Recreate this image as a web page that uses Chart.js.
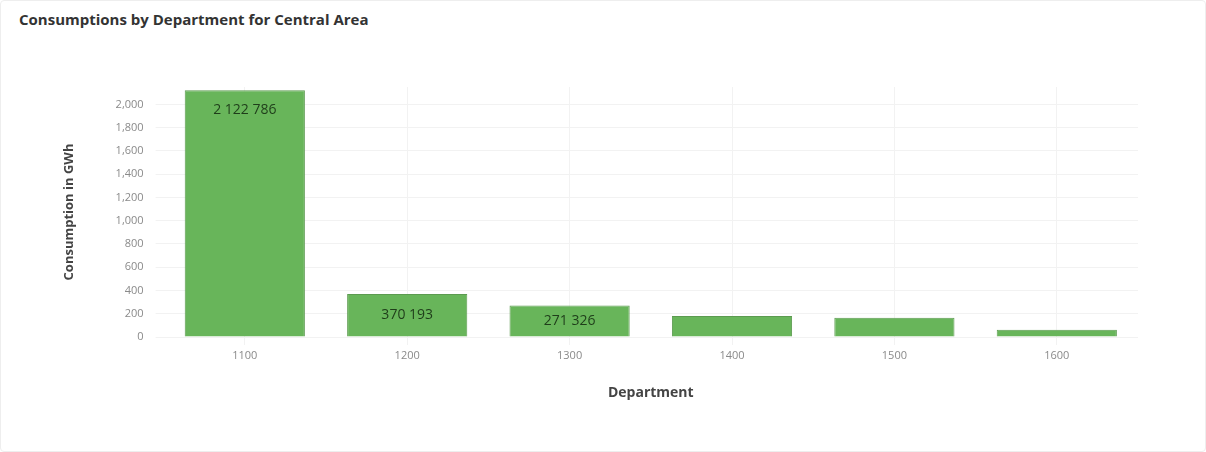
<!DOCTYPE html>
<html>
<head>
<meta charset="utf-8">
<script src="https://cdn.jsdelivr.net/npm/chart.js@4"></script>
<style>
  html, body { margin: 0; padding: 0; background: #fff; }
  #wrap { position: relative; width: 1206px; height: 452px; box-sizing: border-box; border: 1px solid #eeeeee; border-radius: 4px; }
  #title { position: absolute; left: 18px; top: 8px; font: bold 15px "Open Sans", sans-serif; color: #333; }
  #box { position: absolute; left: 0; top: 30px; width: 1200px; height: 374px; }
</style>
</head>
<body>
<div id="wrap">
  <div id="title">Consumptions by Department for Central Area</div>
  <div id="box"><canvas id="myChart"></canvas></div>
</div>
<script>
let departments = ['1100', '1200', '1300', '1400', '1500', '1600'];
let consumption = [2122.786, 370.193, 271.326, 180, 165, 62];
let yTicks = [0, 200, 400, 600, 800, 1000, 1200, 1400, 1600, 1800, 2000];

function fmtLabel(v) {
    // shown as e.g. "2 122 786"
    let parts = v.toFixed(3).split('.');
    let intPart = parts[0].replace(/\B(?=(\d{3})+(?!\d))/g, ' ');
    return intPart + ' ' + parts[1];
}

let barLabels = {
    id: 'barLabels',
    afterDatasetsDraw(chart) {
        let ctx = chart.ctx;
        let meta = chart.getDatasetMeta(0);
        ctx.save();
        ctx.font = '14px "Open Sans", sans-serif';
        ctx.fillStyle = '#1f3d1a';
        ctx.textAlign = 'center';
        ctx.textBaseline = 'middle';
        meta.data.forEach(function(bar, i) {
            let h = bar.base - bar.y;
            if (h < 26) return;
            let y = h > 60 ? bar.y + 20 : bar.y + h / 2;
            ctx.fillText(fmtLabel(consumption[i]), bar.x, y);
        });
        ctx.restore();
    }
};

var ctx = document.getElementById('myChart').getContext('2d');
var chart = new Chart(ctx, {
    type: 'bar',
    data: {
        labels: departments,
        datasets: [{
            data: consumption,
            backgroundColor: '#68b55a',
            borderColor: '#5c9b50',
            borderWidth: 1,
            barPercentage: 0.74,
            categoryPercentage: 1
        }]
    },
    options: {
        responsive: true,
        maintainAspectRatio: false,
        animation: false,
        layout: { padding: { left: 56, right: 63, top: 56, bottom: 0 } },
        plugins: {
            legend: { display: false },
            tooltip: { enabled: false }
        },
        scales: {
            x: {
                grid: { color: '#f2f2f2', offset: false },
                border: { display: false },
                ticks: { color: '#8a8a8a', font: { family: 'Open Sans', size: 11 }, padding: 4 },
                title: {
                    display: true,
                    text: 'Department',
                    color: '#444',
                    font: { family: 'Open Sans', size: 14, weight: 'bold' },
                    padding: { top: 18 }
                }
            },
            y: {
                min: 0,
                max: 2150,
                afterBuildTicks: function(axis) {
                    axis.ticks = yTicks.map(function(v) { return { value: v }; });
                },
                grid: { color: '#f2f2f2' },
                border: { display: false },
                ticks: {
                    color: '#8a8a8a',
                    font: { family: 'Open Sans', size: 11 },
                    padding: 12,
                    callback: function(v) { return v.toLocaleString('en-US'); }
                },
                title: {
                    display: true,
                    text: 'Consumption in GWh',
                    color: '#444',
                    font: { family: 'Open Sans', size: 13, weight: 'bold' },
                    padding: { bottom: 27 }
                }
            }
        }
    },
    plugins: [barLabels]
});
</script>
</body>
</html>
